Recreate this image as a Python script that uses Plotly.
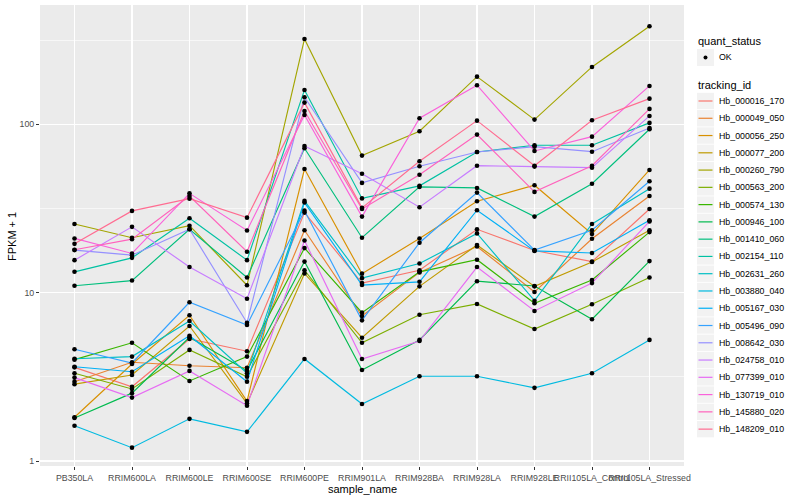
import plotly.graph_objects as go

samples = ["PB350LA", "RRIM600LA", "RRIM600LE", "RRIM600SE", "RRIM600PE", "RRIM901LA",
           "RRIM928BA", "RRIM928LA", "RRIM928LE", "RRII105LA_Control", "RRII105LA_Stressed"]

tracking_ids = ["Hb_000016_170", "Hb_000049_050", "Hb_000056_250", "Hb_000077_200", "Hb_000260_790",
                "Hb_000563_200", "Hb_000574_130", "Hb_000946_100", "Hb_001410_060", "Hb_002154_110",
                "Hb_002631_260", "Hb_003880_040", "Hb_005167_030", "Hb_005496_090", "Hb_008642_030",
                "Hb_024758_010", "Hb_077399_010", "Hb_130719_010", "Hb_145880_020", "Hb_148209_010"]

colors = ["#F8766D", "#EA8331", "#D89000", "#C09B00", "#A3A500", "#7CAE00", "#39B600", "#00BB4E",
          "#00BF7D", "#00C1A3", "#00BFC4", "#00BAE0", "#00B0F6", "#35A2FF", "#9590FF", "#C77CFF",
          "#E76BF3", "#FA62DB", "#FF62BC", "#FF6C91"]

# FPKM + 1 values per sample (in the order of `samples`)
hb_000016_170 = [3.6, 2.76, 5.31, 4.49, 29.9, 11.4, 13.6, 23.8, 17.8, 15.3, 31.4]
hb_000049_050 = [2.96, 3.86, 3.68, 3.58, 23.5, 7.27, 13.2, 18.8, 10.1, 20.9, 37.5]
hb_000056_250 = [1.82, 3.77, 7.34, 2.27, 54.3, 12.97, 21.0, 34.9, 43.5, 22.3, 53.6]
hb_000077_200 = [2.86, 3.24, 6.34, 2.20, 13.0, 5.40, 10.9, 19.2, 10.9, 15.2, 23.5]
hb_000260_790 = [25.6, 21.2, 25.0, 11.07, 321.7, 65.2, 91.0, 192.0, 106.7, 219.3, 382.8]
hb_000563_200 = [3.32, 2.68, 4.57, 3.17, 13.6, 5.04, 7.40, 8.57, 6.08, 8.53, 12.3]
hb_000574_130 = [4.0, 5.04, 2.99, 4.17, 18.4, 7.61, 13.3, 15.7, 8.65, 11.9, 22.9]
hb_000946_100 = [1.8, 2.53, 5.43, 3.44, 15.3, 3.47, 5.24, 11.7, 10.96, 6.95, 15.4]
hb_001410_060 = [11.0, 11.8, 23.8, 12.3, 72.1, 21.2, 42.5, 41.9, 28.3, 44.4, 93.5]
hb_002154_110 = [13.3, 16.1, 27.7, 15.6, 160.1, 36.3, 43.1, 68.5, 75.1, 75.1, 102.0]
hb_002631_260 = [4.05, 4.17, 6.79, 3.32, 35.1, 12.2, 14.9, 22.5, 8.96, 25.6, 41.5]
hb_003880_040 = [1.62, 1.20, 1.78, 1.49, 4.04, 2.18, 3.19, 3.19, 2.72, 3.32, 5.24]
hb_005167_030 = [3.63, 3.39, 5.55, 2.96, 34.3, 11.1, 11.6, 30.9, 17.7, 17.2, 26.9]
hb_005496_090 = [4.61, 3.82, 8.77, 6.43, 30.7, 6.85, 19.8, 39.3, 17.9, 23.5, 45.9]
hb_008642_030 = [17.9, 16.7, 23.8, 6.63, 144.9, 44.9, 56.4, 68.5, 73.7, 68.8, 95.2]
hb_024758_010 = [15.6, 24.6, 14.2, 9.21, 74.4, 50.9, 32.2, 56.8, 56.1, 55.3, 112.2]
hb_077399_010 = [3.13, 2.38, 3.43, 2.13, 20.4, 4.04, 5.16, 14.2, 7.79, 11.4, 26.5]
hb_130719_010 = [21.0, 17.1, 38.9, 23.4, 113.7, 28.3, 108.7, 170.8, 69.5, 84.5, 169.1]
hb_145880_020 = [18.0, 20.8, 37.5, 17.5, 120.1, 31.4, 50.2, 86.9, 39.7, 56.8, 123.5]
hb_148209_010 = [19.5, 30.6, 36.2, 27.9, 134.6, 31.9, 60.4, 105.2, 56.8, 105.8, 142.1]

series_values = [hb_000016_170, hb_000049_050, hb_000056_250, hb_000077_200, hb_000260_790,
                 hb_000563_200, hb_000574_130, hb_000946_100, hb_001410_060, hb_002154_110,
                 hb_002631_260, hb_003880_040, hb_005167_030, hb_005496_090, hb_008642_030,
                 hb_024758_010, hb_077399_010, hb_130719_010, hb_145880_020, hb_148209_010]

y_ticks = [1, 10, 100]
y_minor = [10 ** 0.5, 10 ** 1.5, 10 ** 2.5]

FONT = "Liberation Sans, Arial, sans-serif"
W, H = 800, 500
L, R, T, B = 40, 684, 5, 466
PW, PH = R - L, B - T


def px(x):
    return (x - L) / PW


def py(y):
    return (B - y) / PH


fig = go.Figure()

for tid, col, vals in zip(tracking_ids, colors, series_values):
    fig.add_trace(go.Scatter(x=samples, y=vals, mode="lines", name=tid,
                             line=dict(color=col, width=1.15), showlegend=False,
                             hoverinfo="skip"))
for tid, vals in zip(tracking_ids, series_values):
    fig.add_trace(go.Scatter(x=samples, y=vals, mode="markers", name=tid,
                             marker=dict(color="black", size=4.6, symbol="circle"),
                             showlegend=False))

annotations = []
shapes = []

# axis titles
annotations.append(dict(text="sample_name", x=px(362), y=py(489), xref="paper", yref="paper",
                        showarrow=False, font=dict(size=11, color="black", family=FONT),
                        xanchor="center", yanchor="middle"))
annotations.append(dict(text="FPKM + 1", x=px(12), y=py(237), xref="paper", yref="paper",
                        showarrow=False, textangle=-90, font=dict(size=11, color="black", family=FONT),
                        xanchor="center", yanchor="middle"))

# legend: quant_status
annotations.append(dict(text="quant_status", x=px(696), y=py(41), xref="paper", yref="paper",
                        showarrow=False, font=dict(size=11, color="black", family=FONT),
                        xanchor="left", yanchor="middle"))
shapes.append(dict(type="rect", xref="paper", yref="paper", x0=px(697), x1=px(714),
                   y0=py(49), y1=py(66), fillcolor="#F2F2F2", line=dict(width=0), layer="above"))
shapes.append(dict(type="circle", xref="paper", yref="paper", x0=px(703.5), x1=px(707.5),
                   y0=py(55.5), y1=py(59.5), fillcolor="black", line=dict(width=0), layer="above"))
annotations.append(dict(text="OK", x=px(717), y=py(57.5), xref="paper", yref="paper",
                        showarrow=False, font=dict(size=8.8, color="black", family=FONT),
                        xanchor="left", yanchor="middle"))

# legend: tracking_id
annotations.append(dict(text="tracking_id", x=px(696), y=py(84.5), xref="paper", yref="paper",
                        showarrow=False, font=dict(size=11, color="black", family=FONT),
                        xanchor="left", yanchor="middle"))
step = 17.27
for i, (tid, col) in enumerate(zip(tracking_ids, colors)):
    yc = 101 + i * step
    shapes.append(dict(type="rect", xref="paper", yref="paper", x0=px(697), x1=px(714),
                       y0=py(yc - 8.2), y1=py(yc + 8.2), fillcolor="#F2F2F2",
                       line=dict(width=0), layer="above"))
    shapes.append(dict(type="line", xref="paper", yref="paper", x0=px(698.5), x1=px(712.5),
                       y0=py(yc), y1=py(yc), line=dict(color=col, width=1.2), layer="above"))
    annotations.append(dict(text=tid, x=px(717), y=py(yc), xref="paper", yref="paper",
                            showarrow=False, font=dict(size=8.8, color="black", family=FONT),
                            xanchor="left", yanchor="middle"))

fig.update_layout(
    width=W, height=H,
    margin=dict(l=L, r=W - R, t=T, b=H - B, pad=0),
    paper_bgcolor="white", plot_bgcolor="#EBEBEB",
    font=dict(family=FONT, color="#4D4D4D", size=8.8),
    showlegend=False,
    annotations=annotations, shapes=shapes,
    xaxis=dict(type="category", categoryorder="array", categoryarray=samples,
               range=[-0.6, len(samples) - 0.4], showgrid=True, gridcolor="white", gridwidth=1.3,
               zeroline=False, showline=False, ticks="outside", ticklen=3, tickwidth=1,
               tickcolor="#333333", tickangle=0, automargin=False,
               tickfont=dict(size=8.8, color="#4D4D4D", family=FONT)),
    yaxis=dict(type="log", range=[-0.0297, 2.709], tickvals=y_ticks,
               ticktext=[str(v) for v in y_ticks], showgrid=True, gridcolor="white", gridwidth=1.3,
               zeroline=False, showline=False, ticks="outside", ticklen=3, tickwidth=1,
               tickcolor="#333333", automargin=False,
               tickfont=dict(size=8.8, color="#4D4D4D", family=FONT),
               minor=dict(tickvals=y_minor, showgrid=True, gridcolor="white", gridwidth=0.6,
                          ticks="")),
)

fig.write_html("out.html", config={"displayModeBar": False, "staticPlot": True},
               post_script="document.body.style.margin='0';document.body.style.padding='0';")
